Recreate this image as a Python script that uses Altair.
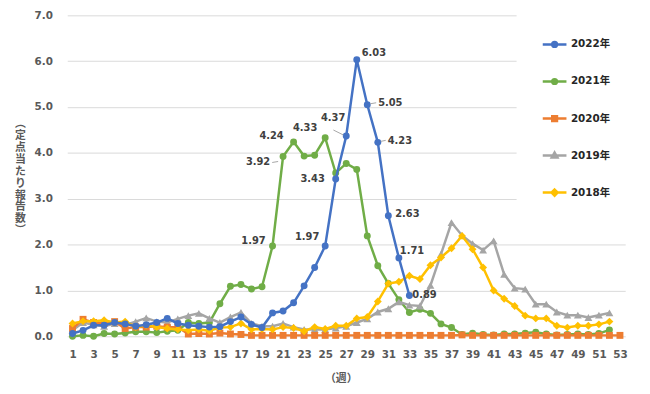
import altair as alt
import pandas as pd

# ---------------- data ----------------
series_names = ["2022年", "2021年", "2020年", "2019年", "2018年"]
series_colors = ["#4472C4", "#70AD47", "#ED7D31", "#A5A5A5", "#FFC000"]

v2022 = [0.06, 0.13, 0.24, 0.24, 0.30, 0.27, 0.22, 0.25, 0.30, 0.39,
         0.28, 0.24, 0.22, 0.20, 0.21, 0.32, 0.42, 0.26, 0.19, 0.51,
         0.55, 0.73, 1.10, 1.50, 1.97, 3.43, 4.37, 6.03, 5.05, 4.23,
         2.63, 1.71, 0.89]
v2021 = [0.00, 0.02, 0.00, 0.06, 0.05, 0.07, 0.10, 0.10, 0.08, 0.11,
         0.13, 0.30, 0.28, 0.30, 0.71, 1.09, 1.13, 1.03, 1.08, 1.97,
         3.92, 4.24, 3.93, 3.95, 4.33, 3.56, 3.77, 3.64, 2.19, 1.54,
         1.15, 0.80, 0.52, 0.59, 0.50, 0.27, 0.19, 0.04, 0.07, 0.04,
         0.03, 0.05, 0.05, 0.07, 0.09, 0.05, 0.03, 0.04, 0.05, 0.04,
         0.06, 0.14]
v2020 = [0.17, 0.37, 0.30, 0.28, 0.32, 0.17, 0.20, 0.20, 0.22, 0.20,
         0.20, 0.05, 0.06, 0.05, 0.07, 0.05, 0.04, 0.02, 0.02, 0.02,
         0.02, 0.02, 0.02, 0.02, 0.02, 0.02, 0.02, 0.02, 0.02, 0.02,
         0.02, 0.02, 0.02, 0.02, 0.02, 0.02, 0.02, 0.03, 0.02, 0.02,
         0.02, 0.02, 0.02, 0.02, 0.02, 0.02, 0.02, 0.02, 0.02, 0.02,
         0.02, 0.02, 0.02]
v2019 = [0.13, 0.30, 0.25, 0.22, 0.28, 0.25, 0.32, 0.40, 0.32, 0.30,
         0.38, 0.45, 0.50, 0.39, 0.30, 0.42, 0.52, 0.28, 0.22, 0.22,
         0.28, 0.20, 0.15, 0.15, 0.15, 0.18, 0.22, 0.30, 0.38, 0.53,
         0.60, 0.75, 0.68, 0.66, 1.11, 1.79, 2.48, 2.20, 2.02, 1.88,
         2.08, 1.35, 1.05, 1.03, 0.70, 0.70, 0.53, 0.46, 0.46, 0.41,
         0.46, 0.51]
v2018 = [0.28, 0.33, 0.33, 0.35, 0.30, 0.32, 0.20, 0.24, 0.20, 0.17,
         0.15, 0.13, 0.15, 0.12, 0.19, 0.20, 0.28, 0.15, 0.16, 0.15,
         0.20, 0.18, 0.11, 0.20, 0.16, 0.23, 0.23, 0.39, 0.42, 0.76,
         1.15, 1.19, 1.32, 1.25, 1.55, 1.72, 1.92, 2.19, 1.90, 1.50,
         1.00, 0.82, 0.66, 0.45, 0.39, 0.39, 0.23, 0.19, 0.23, 0.23,
         0.26, 0.32]

week_ticks = list(range(1, 54, 2))
y_ticks = [0, 1, 2, 3, 4, 5, 6, 7]
y_title_chars = ["︵", "定", "点", "当", "た", "り", "報", "告", "数", "︶"]
x_title = "（週）"

# ---------------- table ----------------
values_by_series = dict(zip(series_names, [v2022, v2021, v2020, v2019, v2018]))
rows = []
for name, vals in values_by_series.items():
    for i, v in enumerate(vals):
        rows.append({"series": name, "week": i + 1, "value": v})
df = pd.DataFrame(rows)

FONT = "DejaVu Sans, Noto Sans CJK JP, sans-serif"
GRAY = "#595959"

color_scale = alt.Scale(domain=series_names, range=series_colors)

x_enc = alt.X("week:Q",
              scale=alt.Scale(domain=[0.5, 53.5], nice=False, zero=False),
              axis=alt.Axis(values=week_ticks, title=x_title, grid=False,
                            domain=False, ticks=False, labelPadding=13,
                            labelFont=FONT, labelFontSize=10.5,
                            labelFontWeight="bold", labelColor=GRAY,
                            labelFlush=False, labelOverlap=False,
                            titleFont=FONT, titleFontSize=11,
                            titleFontWeight="bold", titleColor=GRAY,
                            titleX=277, titleY=43, titleBaseline="middle"))
y_enc = alt.Y("value:Q",
              scale=alt.Scale(domain=[0, 7], nice=False),
              axis=alt.Axis(values=y_ticks, format=".1f", title=y_title_chars,
                            grid=True, gridColor="#d9d9d9", gridWidth=1,
                            domain=False, ticks=False, labelPadding=15,
                            labelFont=FONT, labelFontSize=10.5,
                            labelFontWeight="bold", labelColor=GRAY,
                            titleFont=FONT, titleFontSize=11,
                            titleFontWeight="bold", titleColor=GRAY,
                            titleAngle=0, titleLineHeight=12,
                            titleAlign="center", titleBaseline="middle",
                            titleX=-48, titleY=110))
color_enc = alt.Color("series:N", scale=color_scale, legend=None)

marker = {
    "2022年": ("circle", 49),
    "2021年": ("circle", 49),
    "2020年": ("square", 49),
    "2019年": ("triangle-up", 64),
    "2018年": ("diamond", 64),
}

base = alt.Chart(df)
layers = []

# legend carrier layer (tiny, hidden beneath the real markers)
legend_paths = [
    "M-1,0L1,0M0.2,0A0.2,0.2,0,1,1,-0.2,0A0.2,0.2,0,1,1,0.2,0Z",
    "M-1,0L1,0M0.2,0A0.2,0.2,0,1,1,-0.2,0A0.2,0.2,0,1,1,0.2,0Z",
    "M-1,0L1,0M-0.2,-0.2L0.2,-0.2L0.2,0.2L-0.2,0.2Z",
    "M-1,0L1,0M0,-0.26L0.24,0.16L-0.24,0.16Z",
    "M-1,0L1,0M0,-0.26L0.26,0L0,0.26L-0.26,0Z",
]
leg = alt.Legend(orient="none", legendX=455, legendY=-9, title=None,
                 symbolSize=576, symbolStrokeWidth=2.5, symbolOpacity=1,
                 labelFont=FONT, labelFontSize=10.5, labelFontWeight="bold",
                 labelColor="#262626", labelOffset=3, rowPadding=16.5,
                 padding=25, fillColor="white", direction="vertical")
layers.append(
    base.mark_point(filled=True, opacity=1, strokeWidth=1, size=1)
    .encode(x=x_enc, y=y_enc,
            fill=alt.Fill("series:N", scale=alt.Scale(domain=series_names, range=series_colors), legend=leg),
            stroke=alt.Stroke("series:N", scale=alt.Scale(domain=series_names, range=series_colors), legend=leg),
            shape=alt.Shape("series:N", scale=alt.Scale(domain=series_names, range=legend_paths), legend=leg))
)

draw_order = ["2021年", "2019年", "2020年", "2018年", "2022年"]
for name in draw_order:
    sub = base.transform_filter(alt.datum.series == name)
    layers.append(sub.mark_line(strokeWidth=2.5).encode(x=x_enc, y=y_enc, color=color_enc))
    shp, sz = marker[name]
    layers.append(sub.mark_point(shape=shp, size=sz, filled=True, opacity=1)
                  .encode(x=x_enc, y=y_enc, color=color_enc))

# value labels: (series, week, align, dx, dy)
label_specs = [
    ("2021年", 20, "right", -7, -5),
    ("2021年", 21, "right", -13, 6),
    ("2021年", 22, "right", -10, -6),
    ("2021年", 25, "right", -8, -10),
    ("2022年", 25, "right", -6, -9),
    ("2022年", 26, "right", -11, 0),
    ("2022年", 27, "right", -1, -18),
    ("2022年", 28, "left", 5, -7),
    ("2022年", 29, "left", 11, -2),
    ("2022年", 30, "left", 10, -1),
    ("2022年", 31, "left", 7, -2),
    ("2022年", 32, "left", 1, -7),
    ("2022年", 33, "left", 3, 0),
]
for name, wk, al, dx, dy in label_specs:
    layers.append(
        base.transform_filter((alt.datum.series == name) & (alt.datum.week == wk))
        .mark_text(align=al, baseline="middle", dx=dx, dy=dy, font=FONT,
                   fontSize=10, fontWeight="bold", color="#404040")
        .encode(x=x_enc, y=y_enc, text=alt.Text("value:Q", format=".2f"))
    )

# leader lines: (series, week, xOffset, yOffset, x2Offset, y2Offset)
leader_specs = [
    ("2021年", 21, -11, 6, -5, 5),
    ("2022年", 27, -13, -6, -3, -1),
    ("2022年", 29, 3, -1, 9, -2),
    ("2022年", 30, 3, -1, 8, -2),
]
for name, wk, xo, yo, x2o, y2o in leader_specs:
    layers.append(
        base.transform_filter((alt.datum.series == name) & (alt.datum.week == wk))
        .mark_rule(color="#a6a6a6", strokeWidth=1, xOffset=xo, yOffset=yo,
                   x2Offset=x2o, y2Offset=y2o)
        .encode(x=x_enc, y=y_enc, x2=alt.X2("week:Q"), y2=alt.Y2("value:Q"))
    )

chart = (
    alt.layer(*layers)
    .properties(width=565, height=325,
                autosize=alt.AutoSizeParams(type="none"),
                padding={"left": 60, "top": 5, "right": 17, "bottom": 56},
                background="white")
    .configure_view(stroke=None)
)

chart.save("out.html", embed_options={"renderer": "svg", "actions": False})
